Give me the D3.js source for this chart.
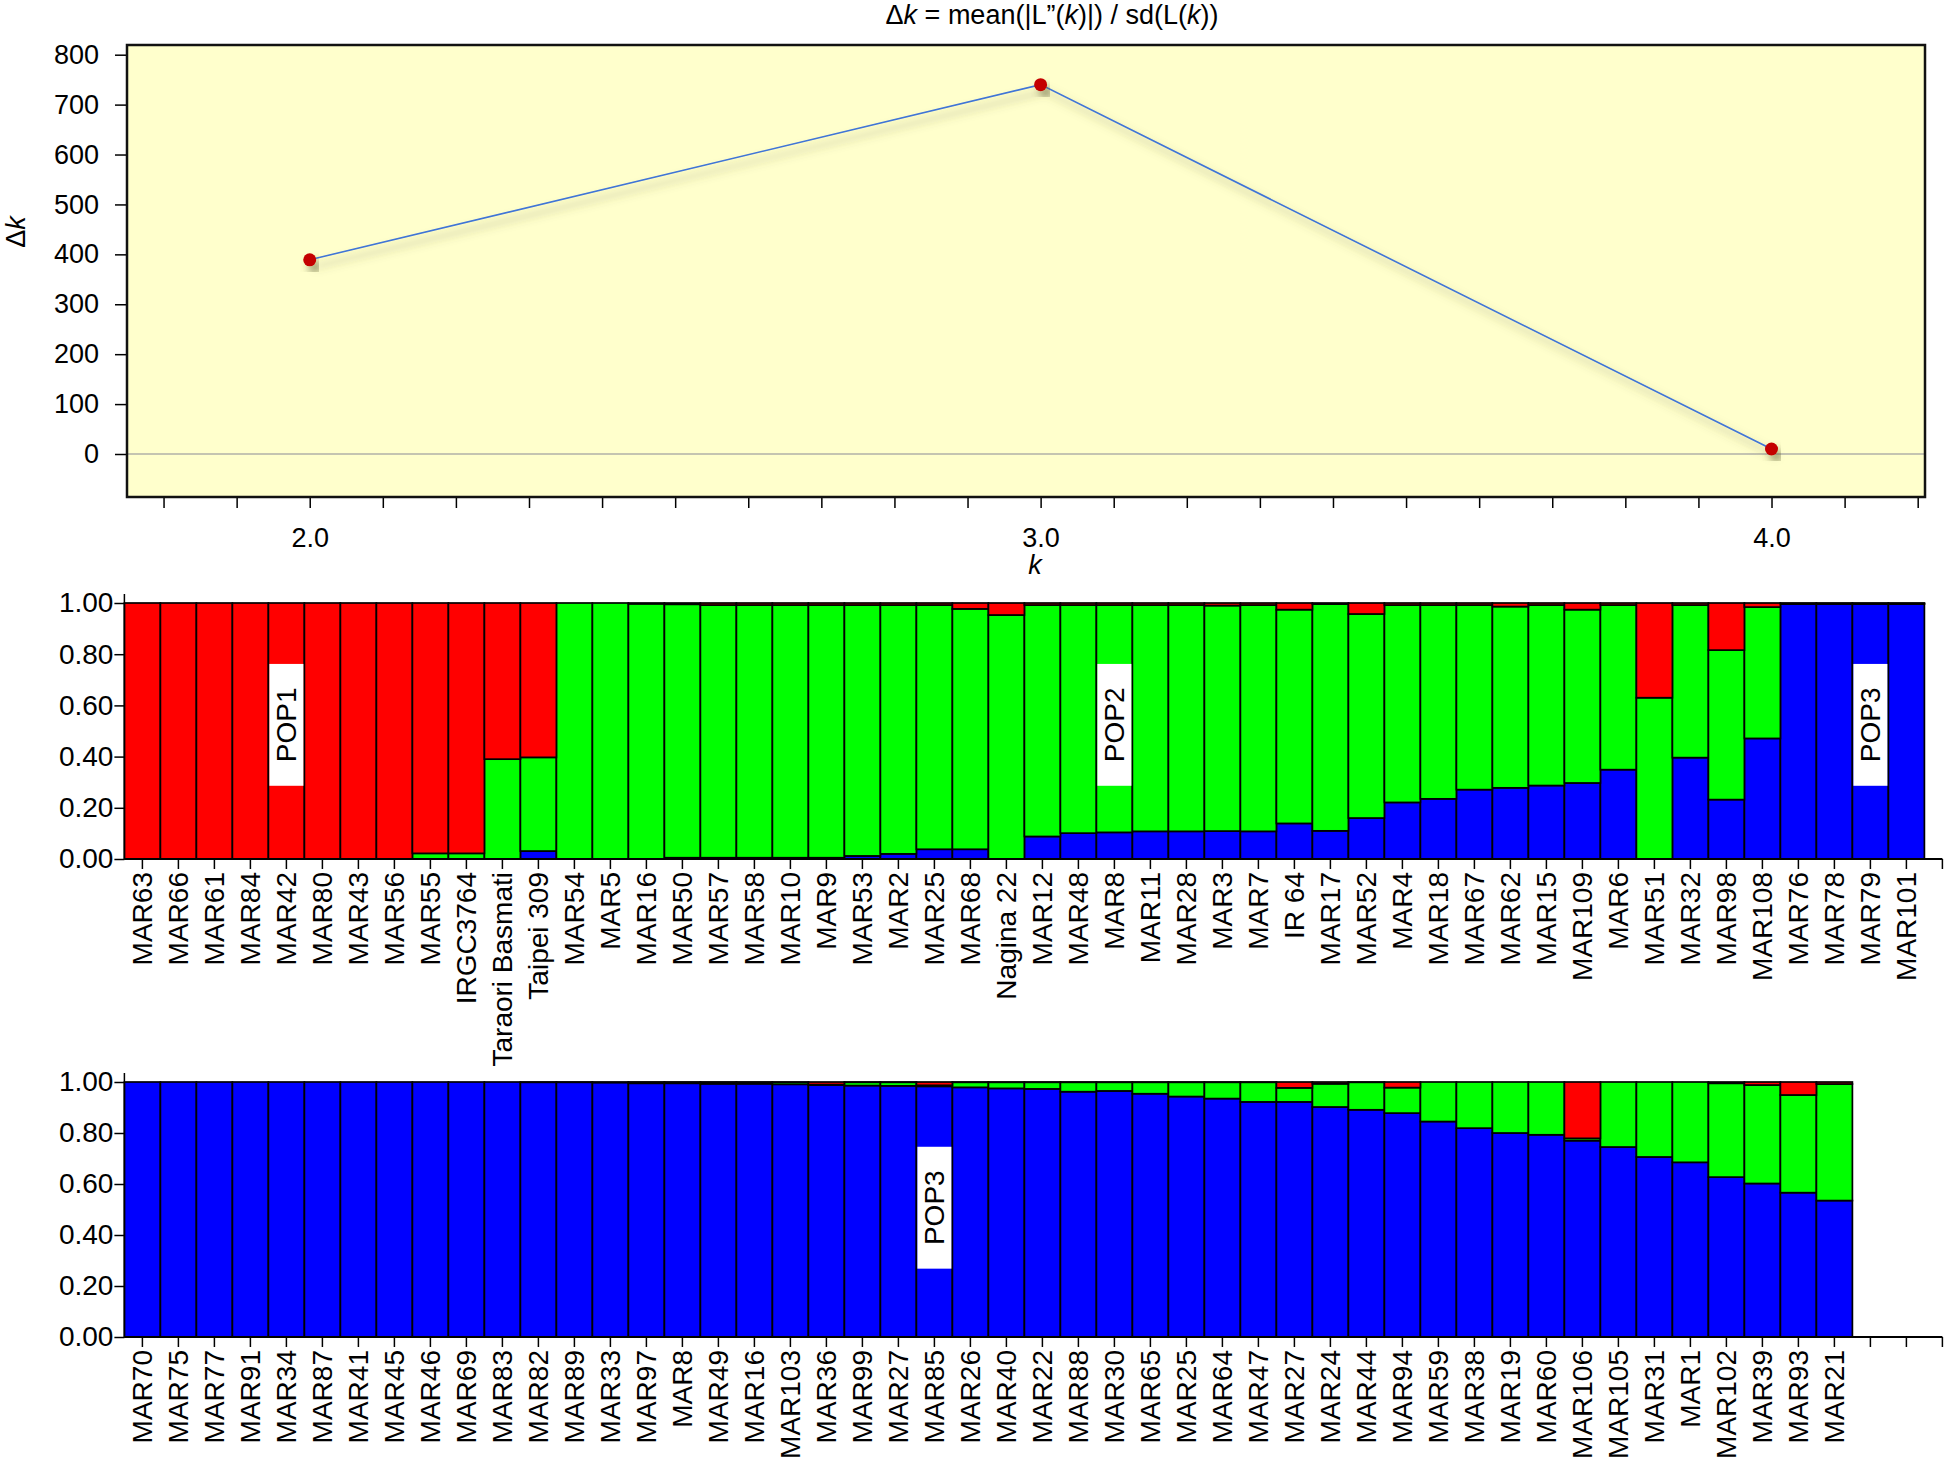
<!DOCTYPE html>
<html>
<head>
<meta charset="utf-8">
<script src="https://cdn.jsdelivr.net/npm/d3@7"></script>
<style>
  body { margin: 0; background: #fff; }
  svg { display: block; font-family: "Liberation Sans", Arial, sans-serif; }
  .tick text { fill: #000; }
</style>
</head>
<body>
<div id="chart"></div>
<script>
// Delta K (Evanno) values
const kValues = [2, 3, 4];
const deltaK = [389, 740, 10];
const deltaTicks = [0, 100, 200, 300, 400, 500, 600, 700, 800];
const kTicks = [1.8, 1.9, 2.0, 2.1, 2.2, 2.3, 2.4, 2.5, 2.6, 2.7, 2.8, 2.9, 3.0,
  3.1, 3.2, 3.3, 3.4, 3.5, 3.6, 3.7, 3.8, 3.9, 4.0, 4.1, 4.2];
const kLabels = [2.0, 3.0, 4.0];

// STRUCTURE K=3 membership, first row
const names1 = ["MAR63","MAR66","MAR61","MAR84","MAR42","MAR80","MAR43","MAR56","MAR55","IRGC3764",
  "Taraori Basmati","Taipei 309","MAR54","MAR5","MAR16","MAR50","MAR57","MAR58","MAR10","MAR9",
  "MAR53","MAR2","MAR25","MAR68","Nagina 22","MAR12","MAR48","MAR8","MAR11","MAR28",
  "MAR3","MAR7","IR 64","MAR17","MAR52","MAR4","MAR18","MAR67","MAR62","MAR15",
  "MAR109","MAR6","MAR51","MAR32","MAR98","MAR108","MAR76","MAR78","MAR79","MAR101"];
const blue1 = [0,0,0,0,0,0,0,0,0,0,
  0,0.031,0,0,0,0.005,0.005,0.005,0.005,0.005,
  0.012,0.02,0.038,0.038,0,0.088,0.101,0.104,0.108,0.108,
  0.109,0.108,0.139,0.11,0.16,0.221,0.235,0.271,0.278,0.287,
  0.297,0.349,0,0.396,0.232,0.471,0.996,0.996,0.996,0.996];
const green1 = [0,0,0,0,0,0,0,0,0.022,0.022,
  0.39,0.366,1,1,0.997,0.99,0.987,0.987,0.987,0.987,
  0.98,0.972,0.954,0.939,0.953,0.904,0.891,0.888,0.884,0.884,
  0.881,0.884,0.835,0.886,0.797,0.771,0.757,0.721,0.708,0.705,
  0.677,0.643,0.63,0.596,0.584,0.513,0.002,0.002,0.002,0.002];
const red1 = [1,1,1,1,1,1,1,1,0.978,0.978,
  0.61,0.603,0,0,0.003,0.005,0.008,0.008,0.008,0.008,
  0.008,0.008,0.008,0.023,0.047,0.008,0.008,0.008,0.008,0.008,
  0.01,0.008,0.026,0.004,0.043,0.008,0.008,0.008,0.014,0.008,
  0.026,0.008,0.37,0.008,0.184,0.016,0.002,0.002,0.002,0.002];

// second row
const names2 = ["MAR70","MAR75","MAR77","MAR91","MAR34","MAR87","MAR41","MAR45","MAR46","MAR69",
  "MAR83","MAR82","MAR89","MAR33","MAR97","MAR8","MAR49","MAR16","MAR103","MAR36",
  "MAR99","MAR27","MAR85","MAR26","MAR40","MAR22","MAR88","MAR30","MAR65","MAR25",
  "MAR64","MAR47","MAR27","MAR24","MAR44","MAR94","MAR59","MAR38","MAR19","MAR60",
  "MAR106","MAR105","MAR31","MAR1","MAR102","MAR39","MAR93","MAR21"];
const blue2 = [1,1,1,1,1,1,1,1,1,1,
  1,0.999,0.999,0.998,0.995,0.995,0.993,0.993,0.991,0.988,
  0.986,0.985,0.983,0.979,0.975,0.973,0.962,0.965,0.954,0.943,
  0.935,0.922,0.922,0.902,0.891,0.878,0.845,0.819,0.8,0.793,
  0.77,0.745,0.706,0.685,0.627,0.602,0.566,0.535];
const green2 = [0,0,0,0,0,0,0,0,0,0,
  0,0.001,0.001,0.002,0.004,0.004,0.006,0.006,0.008,0.002,
  0.013,0.014,0.004,0.02,0.024,0.026,0.037,0.034,0.045,0.056,
  0.064,0.077,0.055,0.091,0.108,0.1,0.155,0.181,0.2,0.207,
  0.009,0.255,0.294,0.315,0.368,0.386,0.383,0.457];
const red2 = [0,0,0,0,0,0,0,0,0,0,
  0,0,0,0,0.001,0.001,0.001,0.001,0.001,0.01,
  0.001,0.001,0.013,0.001,0.001,0.001,0.001,0.001,0.001,0.001,
  0.001,0.001,0.023,0.007,0.001,0.022,0,0,0,0,
  0.221,0,0,0,0.005,0.012,0.051,0.008];

const qTicks = [0, 0.2, 0.4, 0.6, 0.8, 1.0];
const clusterColors = ["#0000ff", "#00ff00", "#ff0000"];

const W = 1950, H = 1463;
const svg = d3.select("#chart").append("svg")
    .attr("width", W)
    .attr("height", H);

const defs = svg.append("defs");
defs.append("filter")
    .attr("id", "shadow")
    .attr("x", "-20%").attr("y", "-30%")
    .attr("width", "140%").attr("height", "170%")
  .append("feDropShadow")
    .attr("dx", 5)
    .attr("dy", 7)
    .attr("stdDeviation", 4)
    .attr("flood-color", "#5c5c30")
    .attr("flood-opacity", 0.6);

// ---------- top panel: delta K ----------
const box = {left: 127, right: 1925, top: 45, bottom: 497};

const xK = d3.scaleLinear()
    .domain([1.75, 4.21])
    .range([box.left, box.right]);
const yK = d3.scaleLinear()
    .domain([0, 800])
    .range([454, 54.7]);

const topG = svg.append("g").attr("class", "delta");

topG.append("rect")
    .attr("x", box.left)
    .attr("y", box.top)
    .attr("width", box.right - box.left)
    .attr("height", box.bottom - box.top)
    .attr("fill", "#ffffcc");

topG.append("line")
    .attr("x1", box.left).attr("x2", box.right)
    .attr("y1", yK(0)).attr("y2", yK(0))
    .attr("stroke", "#b0b0a8")
    .attr("stroke-width", 1.5);

const yAxisK = d3.axisLeft(yK)
    .tickValues(deltaTicks)
    .tickFormat(d3.format("d"))
    .tickSize(12)
    .tickPadding(16);
topG.append("g")
    .attr("transform", `translate(${box.left},0)`)
    .call(yAxisK)
    .call(g => g.select(".domain").remove())
    .call(g => g.selectAll(".tick line").attr("stroke", "#000").attr("stroke-width", 1.5))
    .call(g => g.selectAll(".tick text").attr("font-size", 27).attr("font-family", null));

const xAxisK = d3.axisBottom(xK)
    .tickValues(kTicks)
    .tickFormat(d => kLabels.some(l => Math.abs(l - d) < 1e-6) ? d3.format(".1f")(d) : "")
    .tickSize(11)
    .tickPadding(20);
topG.append("g")
    .attr("transform", `translate(0,${box.bottom})`)
    .call(xAxisK)
    .call(g => g.select(".domain").remove())
    .call(g => g.selectAll(".tick line").attr("stroke", "#000").attr("stroke-width", 1.5))
    .call(g => g.selectAll(".tick text").attr("font-size", 27).attr("font-family", null));

const pts = kValues.map((k, i) => ({k: k, v: deltaK[i]}));

const line = d3.line()
    .x(d => xK(d.k))
    .y(d => yK(d.v));

topG.append("path")
    .datum(pts)
    .attr("d", line)
    .attr("fill", "none")
    .attr("stroke", "#3f74d6")
    .attr("stroke-width", 1.6)
    .attr("filter", "url(#shadow)");

topG.selectAll("circle.pt")
  .data(pts)
  .enter().append("circle")
    .attr("class", "pt")
    .attr("cx", d => xK(d.k))
    .attr("cy", d => yK(d.v))
    .attr("r", 6.5)
    .attr("fill", "#c40000")
    .attr("filter", "url(#shadow)");

topG.append("rect")
    .attr("x", box.left)
    .attr("y", box.top)
    .attr("width", box.right - box.left)
    .attr("height", box.bottom - box.top)
    .attr("fill", "none")
    .attr("stroke", "#111")
    .attr("stroke-width", 2.5);

// title and axis titles
const title = topG.append("text")
    .attr("x", 1052)
    .attr("y", 24)
    .attr("text-anchor", "middle")
    .attr("font-size", 27);
title.append("tspan").text("Δ");
title.append("tspan").attr("font-style", "italic").text("k");
title.append("tspan").text(" = mean(|L\u201D(");
title.append("tspan").attr("font-style", "italic").text("k");
title.append("tspan").text(")|) / sd(L(");
title.append("tspan").attr("font-style", "italic").text("k");
title.append("tspan").text("))");

const ylab = topG.append("text")
    .attr("transform", "translate(25,232) rotate(-90)")
    .attr("text-anchor", "middle")
    .attr("font-size", 27);
ylab.append("tspan").text("Δ");
ylab.append("tspan").attr("font-style", "italic").text("k");

topG.append("text")
    .attr("x", 1035)
    .attr("y", 574)
    .attr("text-anchor", "middle")
    .attr("font-size", 27)
    .attr("font-style", "italic")
    .text("k");

// ---------- bar panels ----------
const x0 = 124.4, band = 36.0, nSlots = 51;

function barPanel(names, blue, green, red, yTop, yBottom, pops) {
  const g = svg.append("g");

  const x = d3.scaleBand()
      .domain(d3.range(nSlots))
      .range([x0, x0 + band * nSlots])
      .padding(0);
  const y = d3.scaleLinear()
      .domain([0, 1])
      .range([yBottom, yTop]);

  const rows = names.map((n, i) => ({name: n, i: i, blue: blue[i], green: green[i], red: red[i]}));
  const stack = d3.stack().keys(["blue", "green", "red"])(rows);

  g.selectAll("g.layer")
    .data(stack)
    .enter().append("g")
      .attr("class", "layer")
      .attr("fill", (d, i) => clusterColors[i])
    .selectAll("rect")
    .data(d => d.filter(s => s[1] - s[0] > 0.0005))
    .enter().append("rect")
      .attr("x", d => x(d.data.i))
      .attr("width", x.bandwidth())
      .attr("y", d => y(d[1]))
      .attr("height", d => y(d[0]) - y(d[1]))
      .attr("stroke", "#000")
      .attr("stroke-width", 1.7);

  // population labels
  pops.forEach(pop => {
    const lx = x(pop.index);
    g.append("rect")
        .attr("x", lx + 1)
        .attr("y", y(pop.hi))
        .attr("width", x.bandwidth() - 2)
        .attr("height", y(pop.lo) - y(pop.hi))
        .attr("fill", "#fff");
    g.append("text")
        .attr("transform", `translate(${lx + x.bandwidth() / 2},${y((pop.hi + pop.lo) / 2)}) rotate(-90)`)
        .attr("text-anchor", "middle")
        .attr("dominant-baseline", "central")
        .attr("font-size", 28)
        .text(pop.text);
  });

  // y axis
  const yAxis = d3.axisLeft(y)
      .tickValues(qTicks)
      .tickFormat(d3.format(".2f"))
      .tickSize(10)
      .tickPadding(1);
  g.append("g")
      .attr("transform", `translate(${x0},0)`)
      .call(yAxis)
      .call(s => s.select(".domain").remove())
      .call(s => s.selectAll(".tick line").attr("stroke", "#000").attr("stroke-width", 1.5))
      .call(s => s.selectAll(".tick text").attr("font-size", 28).attr("font-family", null));
  g.append("line")
      .attr("x1", x0).attr("x2", x0)
      .attr("y1", yTop - 9).attr("y2", yBottom)
      .attr("stroke", "#000")
      .attr("stroke-width", 1.5);

  // x axis
  g.append("line")
      .attr("x1", x0).attr("x2", x(nSlots - 1) + x.bandwidth() / 2)
      .attr("y1", yBottom).attr("y2", yBottom)
      .attr("stroke", "#000")
      .attr("stroke-width", 2);
  g.selectAll("line.xt")
    .data(d3.range(nSlots))
    .enter().append("line")
      .attr("class", "xt")
      .attr("x1", d => x(d) + x.bandwidth() / 2)
      .attr("x2", d => x(d) + x.bandwidth() / 2)
      .attr("y1", yBottom)
      .attr("y2", yBottom + 10)
      .attr("stroke", "#000")
      .attr("stroke-width", 1.5);
  g.selectAll("text.name")
    .data(rows)
    .enter().append("text")
      .attr("class", "name")
      .attr("transform", d => `translate(${x(d.i) + x.bandwidth() / 2},${yBottom + 13}) rotate(-90)`)
      .attr("text-anchor", "end")
      .attr("dominant-baseline", "central")
      .attr("font-size", 28)
      .text(d => d.name);
}

barPanel(names1, blue1, green1, red1, 603, 859, [
  {index: 4, hi: 0.762, lo: 0.286, text: "POP1"},
  {index: 27, hi: 0.762, lo: 0.286, text: "POP2"},
  {index: 48, hi: 0.762, lo: 0.286, text: "POP3"}
]);
barPanel(names2, blue2, green2, red2, 1082, 1337, [
  {index: 22, hi: 0.746, lo: 0.268, text: "POP3"}
]);
</script>
</body>
</html>
